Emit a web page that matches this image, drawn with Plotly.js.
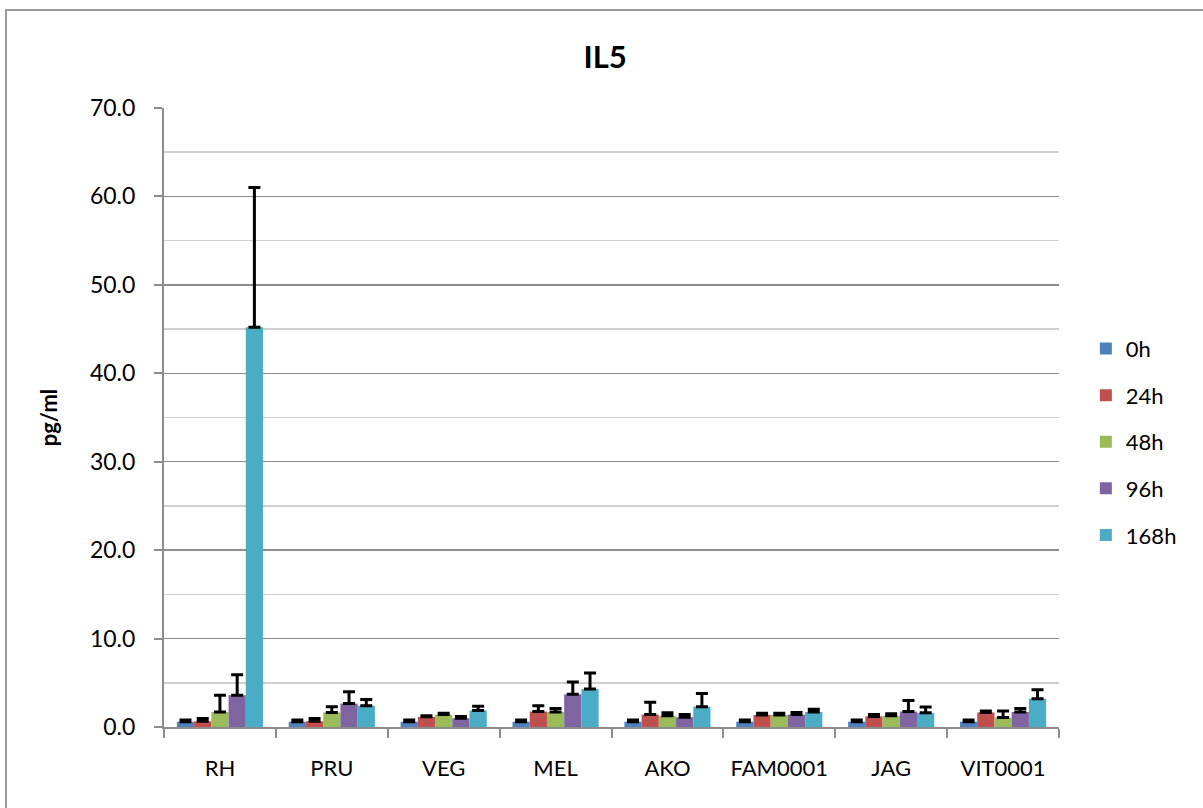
<!DOCTYPE html>
<html>
<head>
<meta charset="utf-8">
<script src="https://cdn.plot.ly/plotly-3.0.1.min.js"></script>
<style>
  html, body { margin: 0; padding: 0; background: #fff; }
  #wrap { position: relative; width: 1203px; height: 808px; overflow: hidden; }
  #frame { position: absolute; left: 5px; top: 9px; width: 1220px; height: 820px;
           border-left: 2px solid #9a9a9a; border-top: 2px solid #9a9a9a; box-sizing: border-box; }
  #chart { position: absolute; left: 0; top: 0; width: 1203px; height: 808px; }
</style>
</head>
<body>
<div id="wrap">
  <div id="chart"></div>
  <div id="frame"></div>
</div>
<script>
const categories = ["RH", "PRU", "VEG", "MEL", "AKO", "FAM0001", "JAG", "VIT0001"];
const seriesNames = ["0h", "24h", "48h", "96h", "168h"];
const colors = ["#4F81BD", "#C0504D", "#9BBB59", "#8064A2", "#4BACC6"];

const v0h   = [0.6, 0.6, 0.6, 0.6, 0.6, 0.6, 0.6, 0.6];
const v24h  = [0.65, 0.65, 1.15, 1.75, 1.4, 1.37, 1.2, 1.65];
const v48h  = [1.7, 1.65, 1.4, 1.7, 1.27, 1.37, 1.27, 1.08];
const v96h  = [3.6, 2.65, 1.0, 3.7, 1.1, 1.4, 1.75, 1.7];
const v168h = [45.2, 2.4, 1.87, 4.3, 2.3, 1.7, 1.6, 3.2];

const e0h   = [0.2, 0.2, 0.2, 0.2, 0.2, 0.2, 0.2, 0.2];
const e24h  = [0.3, 0.3, 0.12, 0.65, 1.4, 0.18, 0.2, 0.15];
const e48h  = [1.9, 0.65, 0.15, 0.4, 0.33, 0.18, 0.23, 0.72];
const e96h  = [2.3, 1.35, 0.2, 1.4, 0.3, 0.25, 1.25, 0.4];
const e168h = [15.8, 0.7, 0.48, 1.8, 1.5, 0.3, 0.65, 1.0];

const values = [v0h, v24h, v48h, v96h, v168h];
const errors = [e0h, e24h, e48h, e96h, e168h];

const font = "Lato, 'Open Sans', 'Liberation Sans', sans-serif";

const traces = seriesNames.map((name, i) => ({
  type: "bar",
  name: name,
  x: categories,
  y: values[i],
  legendgroup: name,
  marker: { color: colors[i], line: { width: 0 } },
  error_y: {
    type: "data",
    array: errors[i],
    arrayminus: errors[i].map(() => 0),
    symmetric: false,
    visible: true,
    color: "#000000",
    thickness: 3,
    width: 6
  }
}));

const layout = {
  width: 1203,
  height: 808,
  margin: { l: 164, r: 144, t: 108, b: 81 },
  paper_bgcolor: "#ffffff",
  plot_bgcolor: "#ffffff",
  font: { family: font, size: 22, color: "#000" },
  title: {
    text: "<b>IL5</b>",
    font: { family: font, size: 31, color: "#000" },
    x: 0.503, xanchor: "center",
    y: 0.929, yanchor: "middle"
  },
  barmode: "group",
  bargap: 0.23,
  bargroupgap: 0,
  showlegend: true,
  legend: {
    x: 1.03, xanchor: "left",
    y: 0.645, yanchor: "top",
    font: { family: font, size: 22, color: "#000" },
    tracegroupgap: 15,
    itemwidth: 30,
    bgcolor: "rgba(0,0,0,0)"
  },
  xaxis: {
    type: "category",
    showgrid: false,
    showline: true,
    linecolor: "#8c8c8c",
    linewidth: 2,
    ticks: "outside",
    tickson: "boundaries",
    ticklen: 9,
    tickwidth: 2,
    tickcolor: "#8c8c8c",
    ticklabelstandoff: 21,
    tickfont: { family: font, size: 22, color: "#000" },
    zeroline: false
  },
  yaxis: {
    range: [0, 70],
    tick0: 0,
    dtick: 10,
    tickformat: ".1f",
    showgrid: true,
    gridcolor: "#8c8c8c",
    gridwidth: 1.5,
    showline: true,
    linecolor: "#8c8c8c",
    linewidth: 2,
    ticks: "outside",
    ticklen: 8,
    tickwidth: 2,
    tickcolor: "#8c8c8c",
    ticklabelstandoff: 14,
    tickfont: { family: font, size: 23, color: "#000" },
    zeroline: false,
    minor: {
      dtick: 5,
      showgrid: true,
      gridcolor: "#d0d0d0",
      gridwidth: 1.5,
      ticks: ""
    },
    title: {
      text: "<b>pg/ml</b>",
      font: { family: font, size: 22, color: "#000" },
      standoff: 26
    }
  }
};

Plotly.newPlot("chart", traces, layout, { displayModeBar: false, staticPlot: true });
</script>
</body>
</html>
